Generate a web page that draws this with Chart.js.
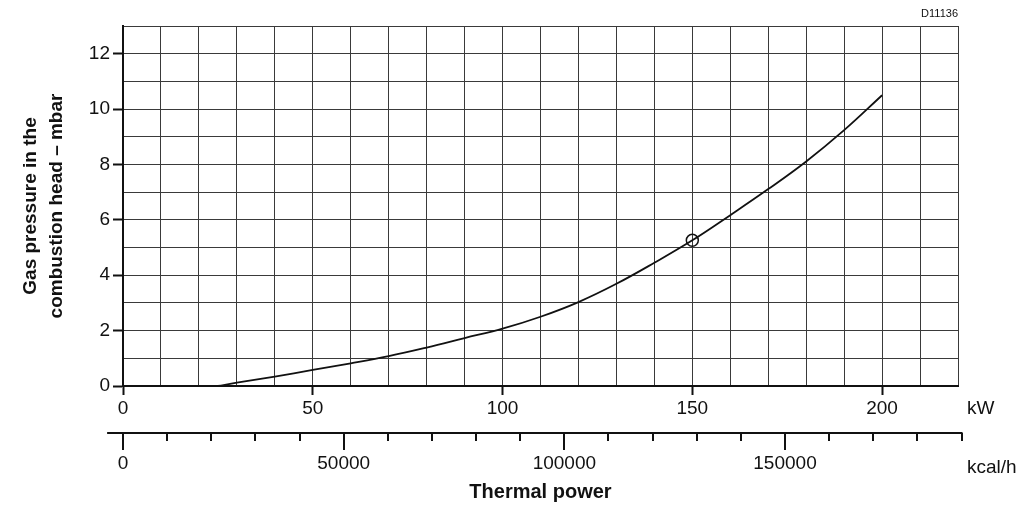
<!DOCTYPE html>
<html>
<head>
<meta charset="utf-8">
<script src="https://cdn.jsdelivr.net/npm/chart.js@4.4.1/dist/chart.umd.min.js"></script>
<style>
    html, body { margin: 0; padding: 0; background: #fff; }
</style>
</head>
<body>
<canvas id="pressureChart" width="1024" height="511"></canvas>
<script>
// Gas pressure in the combustion head (kW -> mbar)
const powerKw = [25, 30, 40, 50, 60, 70, 80, 90, 100, 110, 120, 130, 140, 150, 160, 170, 180, 190, 200];
const pressureMbar = [0, 0.12, 0.34, 0.58, 0.82, 1.08, 1.39, 1.73, 2.07, 2.5, 3.03, 3.69, 4.45, 5.26, 6.17, 7.11, 8.11, 9.24, 10.5];

// circled point on the curve
const markerKw = [150];
const markerMbar = [5.26];

// tick labels
const kwLabels = [0, 50, 100, 150, 200];
const mbarLabels = [0, 2, 4, 6, 8, 10, 12];
const kcalLabels = [0, 50000, 100000, 150000];
const kcalTicks = [0, 10000, 20000, 30000, 40000, 50000, 60000, 70000, 80000, 90000, 100000,
    110000, 120000, 130000, 140000, 150000, 160000, 170000, 180000, 190000];

const KW_MAX = 220;
const KCAL_PER_KW = 860;

const regular = "'Liberation Sans', Arial, sans-serif";
const ink = '#111';

// second (kcal/h) axis line + tick marks, unit labels and drawing number
const extrasPlugin = {
    id: 'extras',
    afterDraw(chart) {
        const ctx = chart.ctx;
        const x = chart.scales.x;
        const s = chart.scales.x2;
        const y = s.top + 1;

        ctx.save();
        ctx.strokeStyle = ink;
        ctx.lineWidth = 2;
        ctx.beginPath();
        ctx.moveTo(s.getPixelForValue(-3600), y);
        ctx.lineTo(s.getPixelForValue(kcalTicks[kcalTicks.length - 1]) + 1, y);
        ctx.stroke();

        kcalTicks.forEach(v => {
            const px = Math.round(s.getPixelForValue(v));
            const len = kcalLabels.includes(v) ? 17 : 8;
            ctx.beginPath();
            ctx.moveTo(px, y);
            ctx.lineTo(px, y + len);
            ctx.stroke();
        });

        ctx.fillStyle = ink;
        ctx.textBaseline = 'middle';
        ctx.textAlign = 'left';
        ctx.font = '19px ' + regular;
        ctx.fillText('kW', chart.chartArea.right + 9, x.top + 23);
        ctx.fillText('kcal/h', chart.chartArea.right + 9, s.top + 36);

        ctx.textAlign = 'right';
        ctx.font = '11px ' + regular;
        ctx.fillText('D11136', chart.chartArea.right, 14);
        ctx.restore();
    }
};

const ctx = document.getElementById('pressureChart').getContext('2d');

window.pressureChart = new Chart(ctx, {
    type: 'line',
    data: {
        datasets: [{
            label: 'Gas pressure',
            data: powerKw.map((kw, i) => ({ x: kw, y: pressureMbar[i] })),
            borderColor: ink,
            borderWidth: 1.8,
            pointRadius: 0,
            tension: 0.4,
            fill: false
        }, {
            label: 'Marker',
            data: markerKw.map((kw, i) => ({ x: kw, y: markerMbar[i] })),
            showLine: false,
            pointRadius: 6,
            pointBorderWidth: 1.5,
            pointBorderColor: ink,
            pointBackgroundColor: 'rgba(0,0,0,0)'
        }]
    },
    options: {
        responsive: false,
        animation: false,
        layout: {
            padding: { top: 26, right: 66, left: 0, bottom: 0 }
        },
        plugins: {
            legend: { display: false },
            tooltip: { enabled: false }
        },
        scales: {
            x: {
                type: 'linear',
                position: 'bottom',
                weight: 0,
                min: 0,
                max: KW_MAX,
                ticks: {
                    stepSize: 10,
                    autoSkip: false,
                    maxRotation: 0,
                    padding: 2,
                    color: ink,
                    font: { family: regular, size: 19 },
                    callback: v => kwLabels.includes(v) ? String(v) : ''
                },
                grid: {
                    color: '#3a3a3a',
                    lineWidth: 1,
                    tickLength: 9,
                    tickWidth: 2,
                    tickColor: c => kwLabels.includes(c.tick.value) ? ink : 'rgba(0,0,0,0)'
                },
                border: { color: ink, width: 2 },
                afterFit: scale => { scale.height = 46; }
            },
            x2: {
                type: 'linear',
                position: 'bottom',
                weight: 1,
                min: 0,
                max: KW_MAX * KCAL_PER_KW,
                afterBuildTicks: scale => {
                    scale.ticks = kcalLabels.map(v => ({ value: v }));
                },
                ticks: {
                    autoSkip: false,
                    maxRotation: 0,
                    padding: 3,
                    color: ink,
                    font: { family: regular, size: 19 },
                    callback: v => String(v)
                },
                grid: { display: false, drawTicks: true, tickLength: 17 },
                border: { display: false },
                title: {
                    display: true,
                    text: 'Thermal power',
                    color: ink,
                    font: { family: regular, size: 20, weight: 'bold' },
                    padding: { top: 0, bottom: 7 }
                },
                afterFit: scale => { scale.height = 79; }
            },
            y: {
                min: 0,
                max: 13,
                ticks: {
                    stepSize: 1,
                    autoSkip: false,
                    padding: 3,
                    color: ink,
                    font: { family: regular, size: 19 },
                    callback: v => mbarLabels.includes(v) ? String(v) : ''
                },
                grid: {
                    color: '#3a3a3a',
                    lineWidth: 1,
                    tickLength: 10,
                    tickWidth: 2,
                    tickColor: c => mbarLabels.includes(c.tick.value) ? ink : 'rgba(0,0,0,0)'
                },
                border: { color: ink, width: 2 },
                title: {
                    display: true,
                    text: ['Gas pressure in the', 'combustion head \u2013 mbar'],
                    color: ink,
                    font: { family: regular, size: 19, weight: 'bold', lineHeight: 1.35 },
                    padding: { top: 18, bottom: 0 }
                },
                afterFit: scale => { scale.width = 123; }
            }
        }
    },
    plugins: [extrasPlugin]
});
</script>
</body>
</html>
